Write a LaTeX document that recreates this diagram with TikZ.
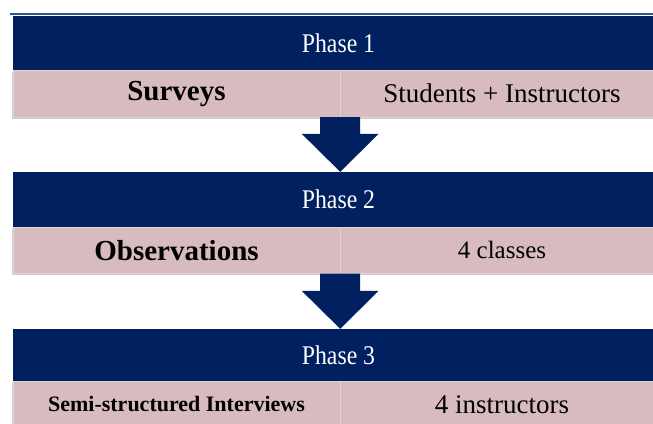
\documentclass[tikz,border=0pt]{standalone}
\usepackage{fontspec}
\setmainfont{Liberation Serif}
\newfontfamily\phasefont[FakeStretch=0.88]{Liberation Serif}
\usetikzlibrary{calc,shadows}
\definecolor{navy}{RGB}{0,32,96}
\definecolor{rosy}{RGB}{216,187,190}
\definecolor{rosyline}{RGB}{229,210,212}
\definecolor{topline}{RGB}{47,85,151}

\tikzset{
  phasebar/.style={fill=navy, draw=navy, inner sep=0pt, minimum width=651pt,
    text=white, font=\phasefont\fontsize{27}{30}\selectfont},
  leftcell/.style={fill=rosy, draw=rosyline, inner sep=0pt, minimum width=327pt,
    minimum height=46.5pt, drop shadow={shadow xshift=-0.8pt, shadow yshift=-1.6pt, fill=gray!80}},
  rightcell/.style={fill=rosy, draw=rosyline, inner sep=0pt, minimum width=324pt,
    minimum height=46.5pt, drop shadow={shadow xshift=0pt, shadow yshift=-1.6pt, fill=gray!80}},
  bigbold/.style={font=\bfseries\fontsize{29}{32}\selectfont},
  plain/.style={font=\fontsize{#1}{30}\selectfont}
}

\begin{document}
\begin{tikzpicture}[x=1pt, y=-1pt]
     \clip (0,0) rectangle (653,423);
     \draw[topline, line width=1.5pt] (10,14) -- (653,14);

     % phase 1
     \node[phasebar, minimum height=54.5pt] (h1) at (338.5,43.25) {Phase 1};
     \node[leftcell, bigbold] (r1a) at (176.5,93.75) {Surveys};
     \node[rightcell, plain=27] (r1b) at (502,93.75) {Students + Instructors};

     % phase 2
     \node[phasebar, minimum height=55pt] (h2) at (338.5,199.5) {Phase 2};
     \node[leftcell, bigbold] (r2a) at (176.5,250.25) {Observations};
     \node[rightcell, plain=25] (r2b) at (502,250.25) {4 classes};

     % phase 3
     \node[phasebar, minimum height=52pt] (h3) at (338.5,355) {Phase 3};
     \node[leftcell, font=\bfseries\fontsize{22}{26}\selectfont] (r3a) at (176.5,404.25) {Semi-structured Interviews};
     \node[rightcell, plain=27] (r3b) at (502,404.25) {4 instructors};

     % block arrows between the phases
     \fill[navy] let \p1=(r1a.south east), \p2=(h2.north) in
        (\x1-20pt,\y1) -- (\x1-20pt,\y2+38pt) -- (\x1-38.5pt,\y2+38pt) -- (\x1,\y2)
        -- (\x1+38.5pt,\y2+38pt) -- (\x1+20pt,\y2+38pt) -- (\x1+20pt,\y1) -- cycle;
     \fill[navy] let \p1=(r2a.south east), \p2=(h3.north) in
        (\x1-20pt,\y1) -- (\x1-20pt,\y2+38pt) -- (\x1-38.5pt,\y2+38pt) -- (\x1,\y2)
        -- (\x1+38.5pt,\y2+38pt) -- (\x1+20pt,\y2+38pt) -- (\x1+20pt,\y1) -- cycle;
\end{tikzpicture}
\end{document}
